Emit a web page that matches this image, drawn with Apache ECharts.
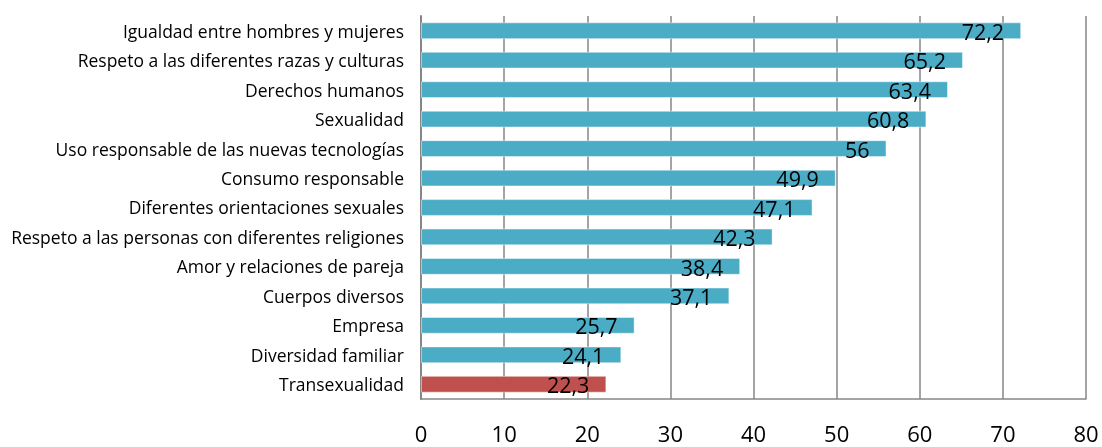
<!DOCTYPE html>
<html>
<head>
<meta charset="utf-8">
<script src="https://cdn.jsdelivr.net/npm/echarts@6/dist/echarts.min.js"></script>
<style>
  html, body { margin: 0; padding: 0; background: #fff; }
  #chart { width: 1102px; height: 447px; }
</style>
</head>
<body>
<div id="chart"></div>
<script>
// Topics, listed bottom-to-top as the category axis draws them
const categories = [
  'Transexualidad',
  'Diversidad familiar',
  'Empresa',
  'Cuerpos diversos',
  'Amor y relaciones de pareja',
  'Respeto a las personas con diferentes religiones',
  'Diferentes orientaciones sexuales',
  'Consumo responsable',
  'Uso responsable de las nuevas tecnologías',
  'Sexualidad',
  'Derechos humanos',
  'Respeto a las diferentes razas y culturas',
  'Igualdad entre hombres y mujeres'
];
const values = [22.3, 24.1, 25.7, 37.1, 38.4, 42.3, 47.1, 49.9, 56, 60.8, 63.4, 65.2, 72.2];
const highlighted = ['Transexualidad'];
const xTicks = [0, 10, 20, 30, 40, 50, 60, 70, 80];

const BLUE = '#4BACC6';
const RED = '#C0504D';
const FONT = 'Open Sans, Liberation Sans, sans-serif';
const fmt = v => String(v).replace('.', ',');

const chart = echarts.init(document.getElementById('chart'));
chart.setOption({
  animation: false,
  grid: { left: 421, right: 16, top: 16, bottom: 42, containLabel: false },
  xAxis: {
    type: 'value',
    min: xTicks[0],
    max: xTicks[xTicks.length - 1],
    interval: 10,
    axisLine: { show: true, lineStyle: { color: '#868686', width: 1.5 } },
    axisTick: { show: false },
    splitLine: { show: true, lineStyle: { color: '#868686', width: 1.5 } },
    axisLabel: { color: '#000', fontSize: 22, margin: 26, fontFamily: FONT }
  },
  yAxis: {
    type: 'category',
    data: categories,
    axisLine: { show: true, lineStyle: { color: '#868686', width: 2 } },
    axisTick: { show: false },
    splitLine: { show: false },
    axisLabel: {
      color: '#000', fontSize: 17.5, margin: 17, fontFamily: FONT,
      verticalAlign: 'top', lineHeight: 20, padding: [-8, 0, 0, 0]
    }
  },
  series: [{
    type: 'bar',
    data: values.map((v, i) => ({
      value: v,
      itemStyle: { color: highlighted.includes(categories[i]) ? RED : BLUE }
    })),
    barCategoryGap: '43%',
    itemStyle: { borderColor: 'rgba(255,255,255,0.45)', borderWidth: 1 },
    label: {
      show: true,
      position: 'insideRight',
      distance: 17,
      offset: [0, 3],
      color: '#000',
      fontSize: 21.5,
      fontFamily: FONT,
      formatter: p => fmt(p.value)
    }
  }]
});
</script>
</body>
</html>
